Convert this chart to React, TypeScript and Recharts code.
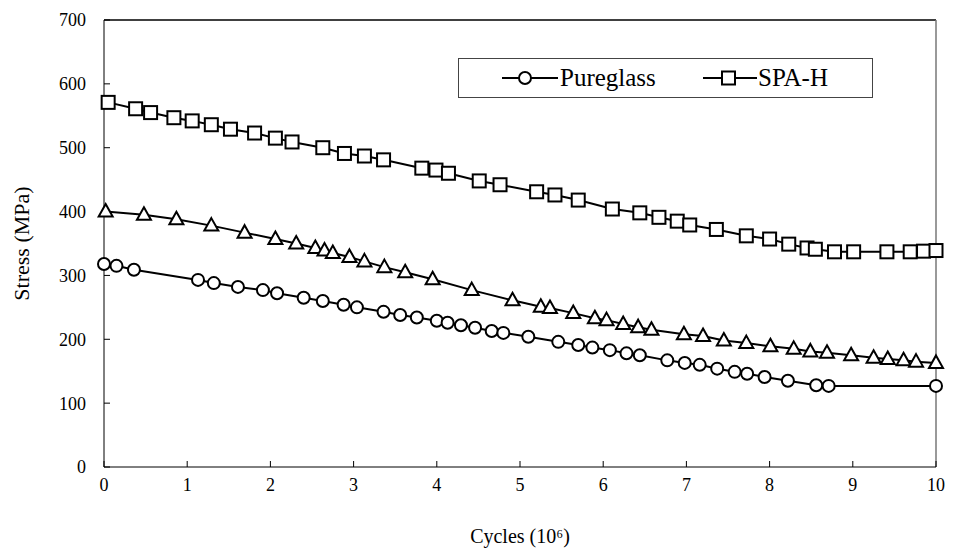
import React from 'react';
import { LineChart, Line, XAxis, YAxis, ReferenceLine, Legend } from 'recharts';

const FONT = 'Liberation Serif';

// Pureglass (circles)
const pureX = [0, 0.15, 0.36, 1.13, 1.32, 1.61, 1.91, 2.08, 2.4, 2.63, 2.88, 3.04, 3.36, 3.56, 3.76, 4.0, 4.13, 4.29, 4.46, 4.66, 4.8, 5.1, 5.46, 5.7, 5.87, 6.08, 6.28, 6.44, 6.77, 6.98, 7.16, 7.37, 7.58, 7.73, 7.94, 8.22, 8.56, 8.71, 10.0];
const pureY = [318, 315, 309, 293, 288, 282, 277, 272, 265, 260, 254, 250, 243, 238, 234, 229, 226, 222, 218, 213, 210, 204, 196, 191, 187, 183, 178, 175, 167, 163, 160, 154, 149, 146, 141, 135, 128, 127, 127];

// triangles (no legend entry)
const triX = [0.02, 0.48, 0.87, 1.29, 1.69, 2.06, 2.31, 2.54, 2.65, 2.75, 2.95, 3.13, 3.37, 3.62, 3.95, 4.42, 4.91, 5.25, 5.36, 5.64, 5.9, 6.04, 6.24, 6.42, 6.58, 6.97, 7.2, 7.45, 7.72, 8.01, 8.29, 8.49, 8.69, 8.98, 9.25, 9.42, 9.61, 9.76, 10.0];
const triY = [400, 395, 388, 378, 367, 357, 350, 343, 339, 335, 329, 322, 313, 305, 294, 277, 261, 251, 249, 241, 233, 230, 224, 219, 215, 208, 205, 198, 194, 189, 185, 181, 179, 175, 171, 169, 167, 165, 163];

// SPA-H (squares)
const spaX = [0.05, 0.38, 0.56, 0.84, 1.06, 1.29, 1.52, 1.81, 2.06, 2.26, 2.63, 2.89, 3.13, 3.36, 3.82, 3.99, 4.14, 4.51, 4.76, 5.2, 5.42, 5.7, 6.11, 6.44, 6.67, 6.89, 7.04, 7.36, 7.72, 8.0, 8.23, 8.45, 8.55, 8.78, 9.01, 9.41, 9.69, 9.85, 10.0];
const spaY = [571, 561, 555, 547, 542, 536, 529, 523, 515, 509, 500, 491, 487, 481, 468, 465, 460, 448, 442, 431, 426, 418, 404, 398, 391, 385, 379, 372, 362, 357, 349, 343, 341, 337, 337, 337, 337, 338, 339];

const xTicks = [0, 1, 2, 3, 4, 5, 6, 7, 8, 9, 10];
const yTicks = [0, 100, 200, 300, 400, 500, 600, 700];

const toPoints = (xs: number[], ys: number[]) => xs.map((x, i) => ({ x, y: ys[i] }));

const pureData = toPoints(pureX, pureY);
const triData = toPoints(triX, triY);
const spaData = toPoints(spaX, spaY);

const CircleDot = (props: any) => {
  const { cx, cy, index } = props;
  return <circle key={`c-${index}`} cx={cx} cy={cy} r={6} fill="#fff" stroke="#000" strokeWidth={2} />;
};

const SquareDot = (props: any) => {
  const { cx, cy, index } = props;
  return <rect key={`s-${index}`} x={cx - 6.5} y={cy - 6.5} width={13} height={13} fill="#fff" stroke="#000" strokeWidth={2} />;
};

const TriangleDot = (props: any) => {
  const { cx, cy, index } = props;
  const pts = `${cx},${cy - 7.5} ${cx + 7},${cy + 5} ${cx - 7},${cy + 5}`;
  return <polygon key={`t-${index}`} points={pts} fill="#fff" stroke="#000" strokeWidth={2} strokeLinejoin="miter" />;
};

const LegendBox = () => (
  <div
    style={{
      width: 415,
      height: 40,
      border: '1px solid #444',
      background: '#fff',
      boxSizing: 'border-box',
      position: 'relative',
      fontFamily: FONT,
      fontSize: 25,
      color: '#000',
    }}
  >
    <svg width={60} height={20} style={{ position: 'absolute', left: 43, top: 9 }}>
      <line x1={0} y1={10} x2={56} y2={10} stroke="#000" strokeWidth={2} />
      <circle cx={23} cy={10} r={6} fill="#fff" stroke="#000" strokeWidth={2} />
    </svg>
    <span style={{ position: 'absolute', left: 101, top: 4, lineHeight: '30px' }}>Pureglass</span>
    <svg width={60} height={20} style={{ position: 'absolute', left: 244, top: 9 }}>
      <line x1={0} y1={10} x2={54} y2={10} stroke="#000" strokeWidth={2} />
      <rect x={19} y={3.5} width={13} height={13} fill="#fff" stroke="#000" strokeWidth={2} />
    </svg>
    <span style={{ position: 'absolute', left: 299, top: 4, lineHeight: '30px' }}>SPA-H</span>
  </div>
);

export default function App() {
  return (
    <div style={{ position: 'absolute', left: 0, top: 0, background: '#fff', fontFamily: FONT }}>
      <LineChart width={958} height={556} margin={{ top: 20, right: 22, bottom: 9, left: 0 }} style={{ fontFamily: FONT }}>
        <XAxis
          type="number"
          dataKey="x"
          domain={[0, 10]}
          ticks={xTicks}
          allowDuplicatedCategory={false}
          height={80}
          stroke="#000"
          tickSize={-6}
          tickMargin={17}
          tick={{ fontSize: 18, fill: '#000', fontFamily: FONT }}
          label={{
            value: 'Cycles (10⁶)',
            position: 'insideBottom',
            offset: 4,
            style: { fontSize: 20, fill: '#000', fontFamily: FONT },
          }}
        />
        <YAxis
          type="number"
          dataKey="y"
          domain={[0, 700]}
          ticks={yTicks}
          width={104}
          stroke="#000"
          tickSize={-6}
          tickMargin={24}
          tick={{ fontSize: 18, fill: '#000', fontFamily: FONT }}
          label={{
            value: 'Stress (MPa)',
            angle: -90,
            position: 'insideLeft',
            offset: 21,
            style: { textAnchor: 'middle', fontSize: 22, fill: '#000', fontFamily: FONT },
          }}
        />
        <ReferenceLine y={700} stroke="#000" strokeWidth={1.5} />
        <ReferenceLine x={10} stroke="#777" strokeWidth={1.5} />
        <Legend
          layout="vertical"
          align="center"
          verticalAlign="middle"
          content={<LegendBox />}
          wrapperStyle={{ left: 458, top: 58, width: 415, height: 40 }}
        />
        <Line
          data={triData}
          dataKey="y"
          name="Triangle"
          type="linear"
          stroke="#000"
          strokeWidth={2}
          dot={TriangleDot}
          legendType="none"
          isAnimationActive={false}
        />
        <Line
          data={pureData}
          dataKey="y"
          name="Pureglass"
          type="linear"
          stroke="#000"
          strokeWidth={2}
          dot={CircleDot}
          isAnimationActive={false}
        />
        <Line
          data={spaData}
          dataKey="y"
          name="SPA-H"
          type="linear"
          stroke="#000"
          strokeWidth={2}
          dot={SquareDot}
          isAnimationActive={false}
        />
      </LineChart>
    </div>
  );
}
